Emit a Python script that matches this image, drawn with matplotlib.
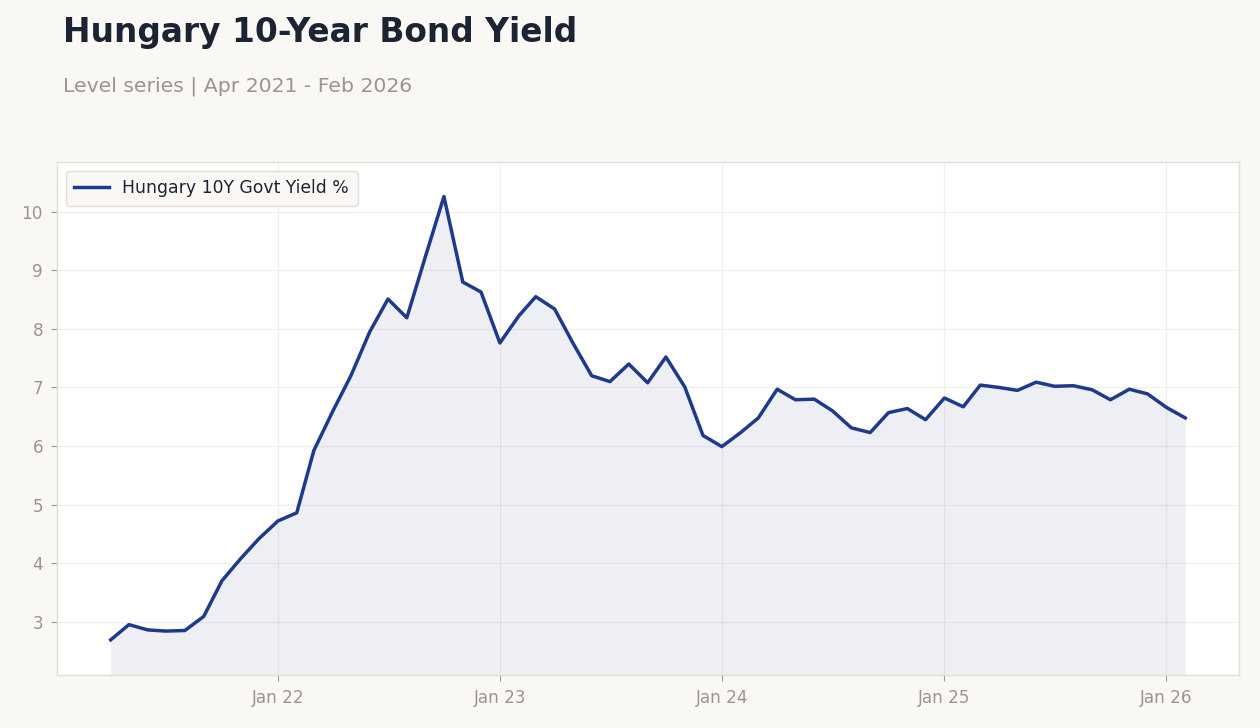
import numpy as np
import pandas as pd
import matplotlib
matplotlib.use('Agg')
import matplotlib.pyplot as plt
import matplotlib.dates as mdates

# Monthly Hungary 10Y government bond yield, Apr 2021 - Feb 2026
months = pd.date_range('2021-04-01', '2026-02-01', freq='MS')
yields = [
    2.69, 2.95, 2.86, 2.84, 2.85, 3.09, 3.70, 4.08, 4.42,            # 2021
    4.72, 4.86, 5.92, 6.59, 7.20, 7.95, 8.51, 8.19, 9.25, 10.26, 8.80, 8.63,  # 2022
    7.76, 8.22, 8.55, 8.34, 7.76, 7.20, 7.10, 7.40, 7.08, 7.52, 7.01, 6.18,   # 2023
    5.99, 6.23, 6.48, 6.97, 6.79, 6.80, 6.60, 6.31, 6.23, 6.57, 6.64, 6.45,   # 2024
    6.82, 6.67, 7.04, 7.00, 6.95, 7.09, 7.02, 7.03, 6.96, 6.79, 6.97, 6.89,   # 2025
    6.66, 6.48,                                                       # 2026
]
series_label = 'Hungary 10Y Govt Yield %'
title = 'Hungary 10-Year Bond Yield'
subtitle = 'Level series | Apr 2021 - Feb 2026'

BG = '#f9f8f5'
LINE = '#1e3a8a'
TEXT_DARK = '#1c2433'
TEXT_GREY = '#9a9590'
EDGE = '#e2ddd5'

fig = plt.figure(figsize=(12.6, 7.28), dpi=100, facecolor=BG)
ax = fig.add_axes([0.0452, 0.0728, 0.9381, 0.7047])
ax.set_facecolor('white')

ymin, ymax = 2.09, 10.85
ax.plot(months, yields, color=LINE, linewidth=2.5, label=series_label, zorder=3)
ax.fill_between(months, yields, ymin, color=LINE, alpha=0.08, linewidth=0, zorder=2)
ax.set_ylim(ymin, ymax)
ax.margins(x=0.05)

ax.xaxis.set_major_locator(mdates.YearLocator())
ax.xaxis.set_major_formatter(mdates.DateFormatter('%b %y'))
ax.set_yticks(range(3, 11))

ax.grid(True, color='#ecebe8', linewidth=0.8, alpha=0.8, zorder=0)
ax.set_axisbelow(True)
for sp in ax.spines.values():
    sp.set_color(EDGE)
    sp.set_linewidth(1.0)
ax.tick_params(axis='both', colors=TEXT_GREY, labelsize=12.2, length=4, width=0.8)
ax.tick_params(axis='x', pad=6)
ax.tick_params(axis='y', pad=6)

leg = ax.legend(loc='upper left', fontsize=12.4, frameon=True, facecolor=BG,
                edgecolor=EDGE, framealpha=1.0, handlelength=2.0,
                borderpad=0.5, bbox_to_anchor=(0.0, 1.0))
for t in leg.get_texts():
    t.set_color(TEXT_DARK)

fig.text(0.05, 1 - 42 / 728, title, fontsize=23.7, fontweight='bold',
         color=TEXT_DARK, va='baseline', ha='left')
fig.text(0.05, 1 - 92 / 728, subtitle, fontsize=14.65, color=TEXT_GREY,
         va='baseline', ha='left')

fig.savefig('out.png', dpi=100, facecolor=BG)
plt.close(fig)
